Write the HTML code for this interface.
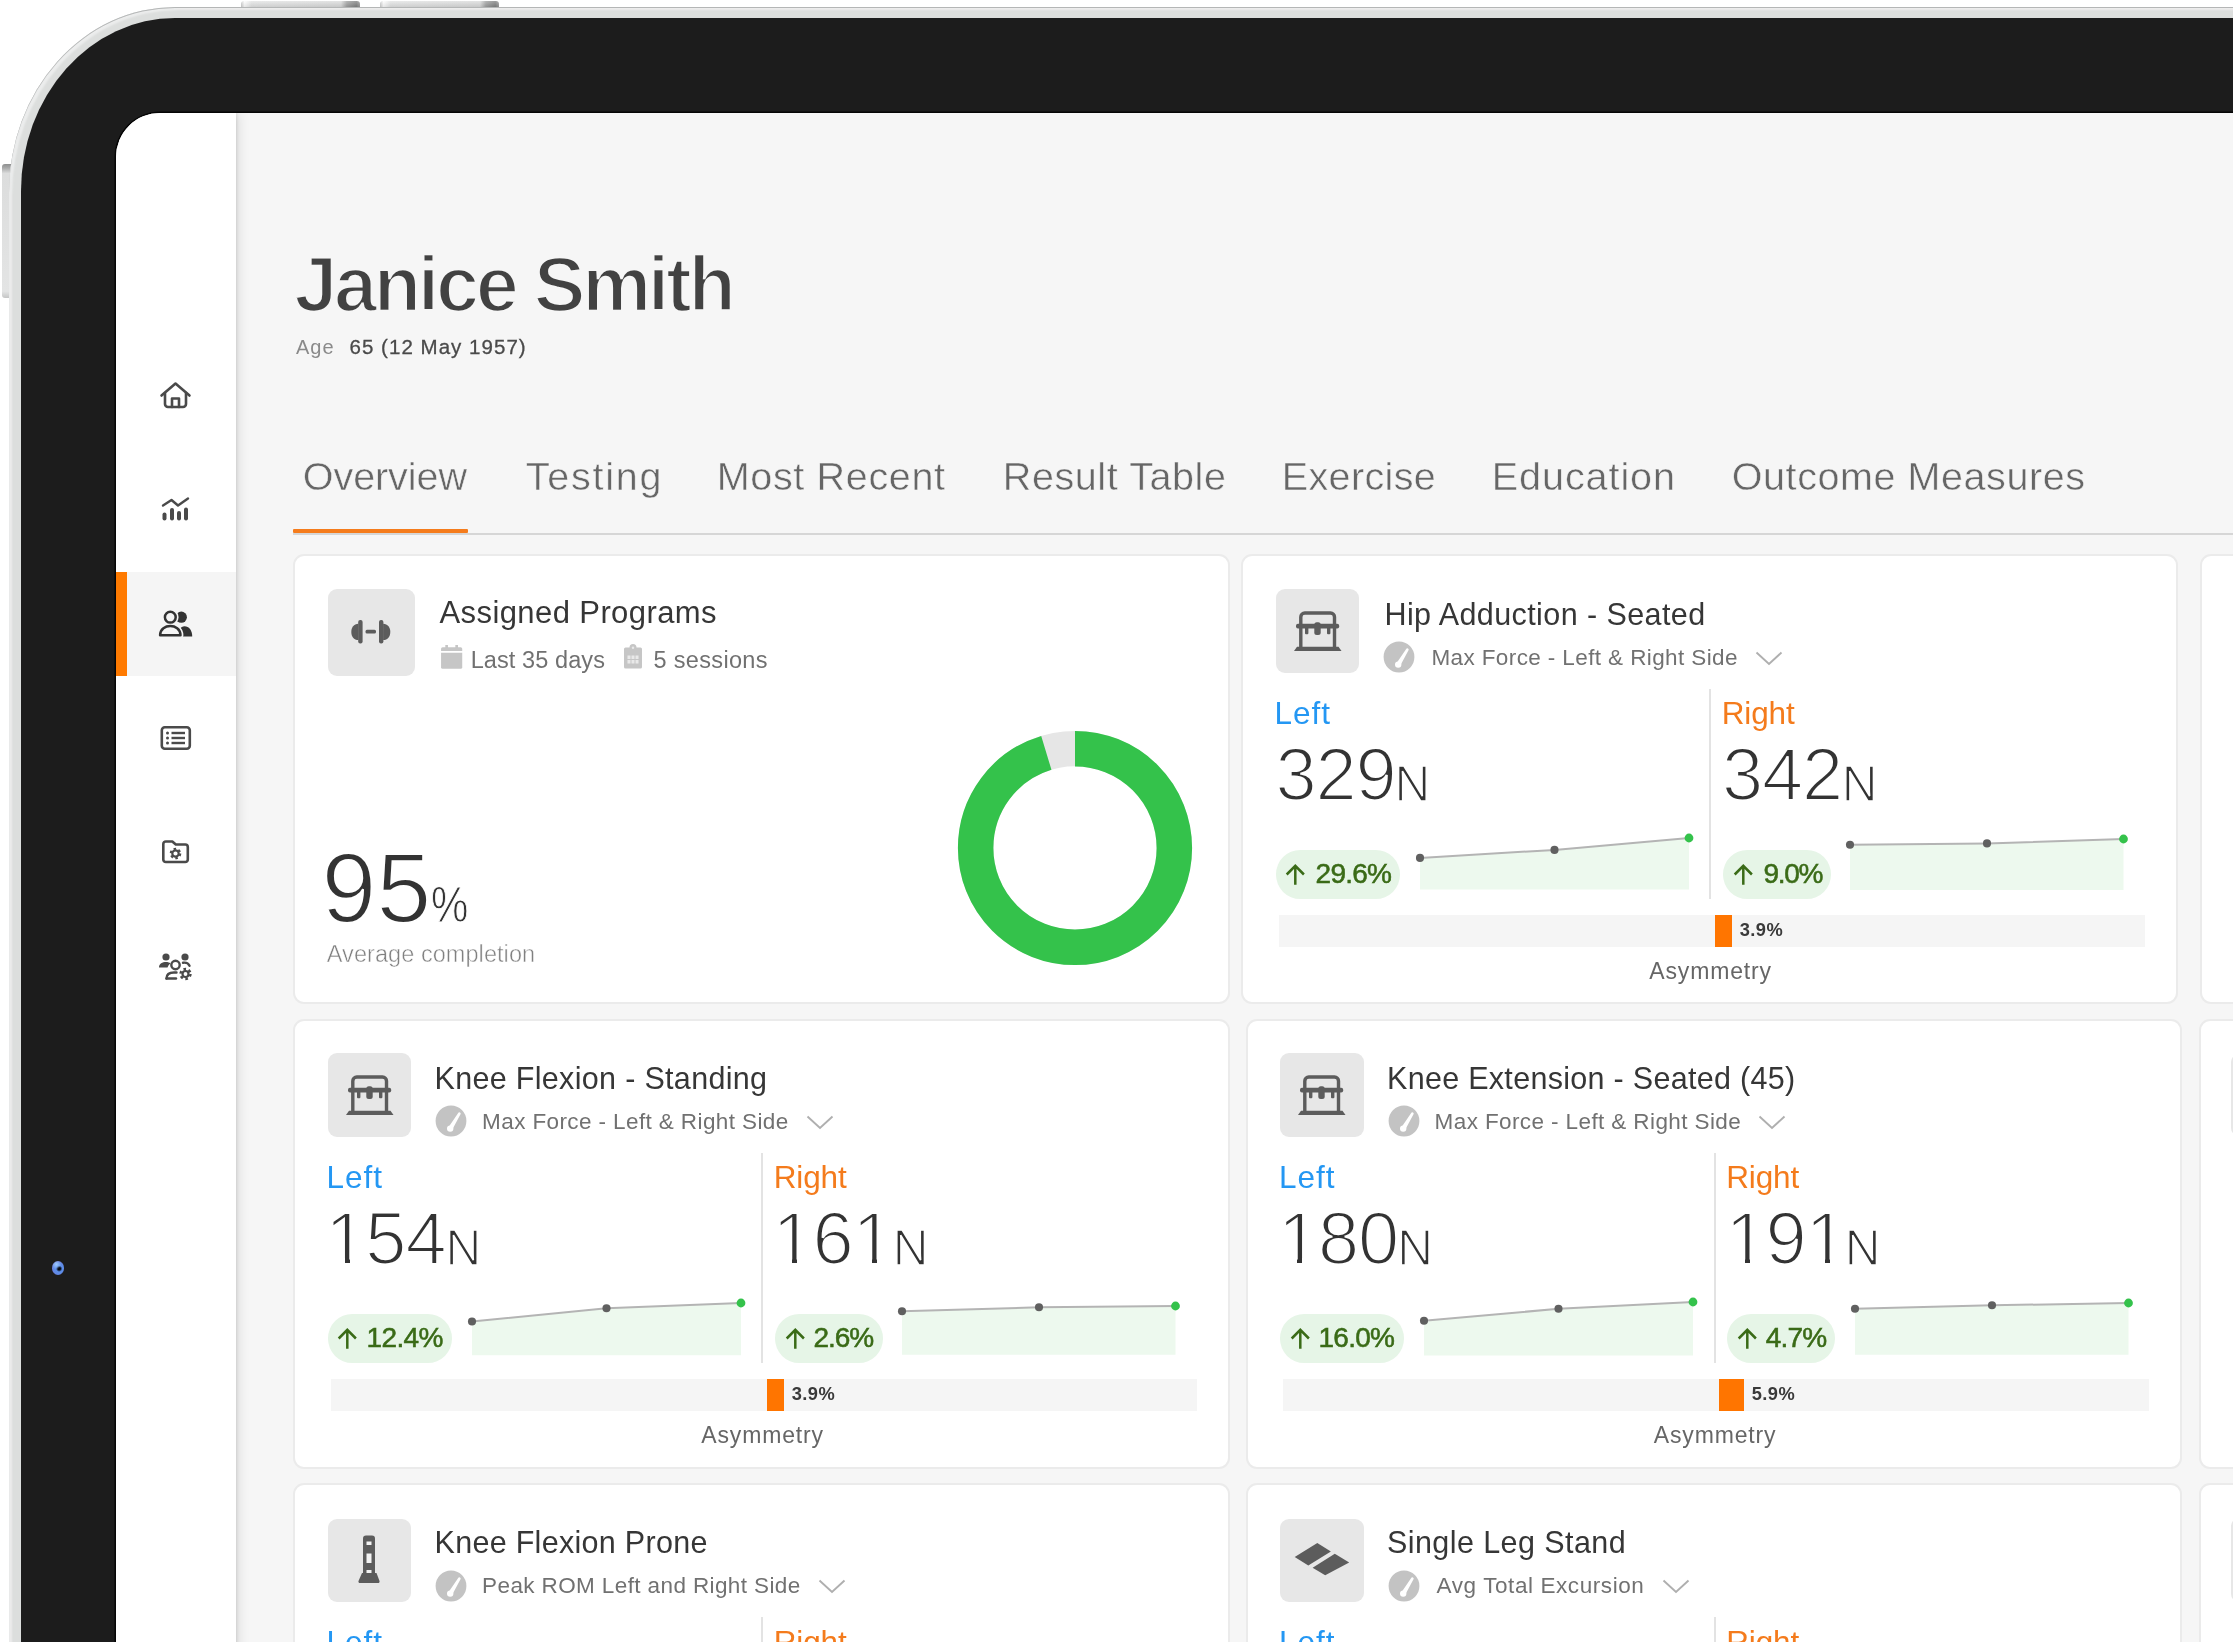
<!DOCTYPE html><html lang="en"><head><meta charset="utf-8"><title>Janice Smith - Overview</title><style>
*{box-sizing:border-box;margin:0;padding:0}
html,body{width:2233px;height:1642px;overflow:hidden;background:#fff}
body{position:relative;font-family:"Liberation Sans",sans-serif;}
#page{position:absolute;left:0;top:0;width:2233px;height:1642px;overflow:hidden;will-change:transform;}
.abs{position:absolute}
.t{position:absolute;white-space:nowrap;line-height:1;}
.btn{position:absolute;background:linear-gradient(rgba(255,255,255,.25),rgba(0,0,0,.10)),linear-gradient(90deg,#c9caca 0,#fdfdfd 3%,#e2e3e3 9%,#d9dada 84%,#9d9e9e 89%,#7c7d7d 97%,#9a9a9a 100%);border-radius:3px 3px 0 0;}
#silver{position:absolute;left:9px;top:6.500px;width:2400px;height:1800px;border-top-left-radius:166px 185px;background:#dcdedd;box-shadow:inset 0 1px 0 0 #b4b6b6, inset 1.500px 0 0 0 #e9eaea, inset 3px 3px 2px 0 #eceded;}
#bezel{position:absolute;left:21.200px;top:18px;width:2400px;height:1800px;border-top-left-radius:154px 173px;background:#1c1c1c;}
#screen{position:absolute;left:116px;top:113px;width:2200px;height:1700px;border-top-left-radius:44px;background:#f6f6f6;overflow:hidden;box-shadow:0 0 0 1.5px #050505;}
#side{position:absolute;left:0;top:0;width:120px;height:1700px;background:#fff;box-shadow:1px 0 3px rgba(0,0,0,.10),3px 0 11px rgba(0,0,0,.10);}
#sel{position:absolute;left:0;top:459px;width:120px;height:104px;background:#f5f5f5;}
#selbar{position:absolute;left:0;top:459px;width:11px;height:104px;background:#ff7a00;}
.ico{position:absolute;overflow:visible}
.card{position:absolute;background:#fff;border:2.500px solid #ebebeb;border-radius:11px;}
.ib{position:absolute;background:#e7e7e7;border-radius:9px;}
.pill{position:absolute;background:#e6f5e7;border-radius:24.300px;height:48.600px;}
.abar{position:absolute;background:#f5f5f5;height:32px;}
.obar{position:absolute;background:#ff7500;height:32px;}
.vdiv{position:absolute;width:2px;background:#e3e3e3;}
.light{-webkit-text-stroke:1.6px #fff;}
.b{font-weight:bold}
</style></head><body><div id="page">
<div class="btn" style="left:241px;top:1px;width:119px;height:7px"></div>
<div class="btn" style="left:380px;top:1px;width:118.500px;height:7px"></div>
<div class="btn" style="left:2px;top:164px;width:9px;height:134px;border-radius:3px 0 0 3px;background:linear-gradient(180deg,#8e8f8f 0,#a9aaaa 3%,#dcdddd 7%,#e3e4e4 95%,#c4c5c5 100%)"></div>
<div id="silver"></div><div id="bezel"></div>
<div class="abs" style="left:51.800px;top:1260.800px;width:12.600px;height:13.800px;border-radius:50%;filter:blur(.7px);background:radial-gradient(circle at 36% 24%,rgba(160,205,255,.95) 0,rgba(160,205,255,0) 38%),radial-gradient(circle at 60% 55%,#060a14 0,#060a14 12%,#5b8de8 30%,#6288e4 55%,#7074cf 76%,rgba(60,60,90,.4) 90%,rgba(28,28,28,0) 100%)"></div>
<div id="screen">
<div id="side"><div id="sel"></div><div id="selbar"></div></div>
</div>
<svg class="ico" style="left:158px;top:380px" width="36" height="32" viewBox="0 0 36 32"><g fill="none" stroke="#4a4a4a" stroke-width="2.6" stroke-linejoin="round" stroke-linecap="round"><path d="M3.5 15.5 L17.5 3.5 L31.5 15.5"/><path d="M7 13 V24 a3 3 0 0 0 3 3 H25 a3 3 0 0 0 3 -3 V13"/><path d="M14 27 V18.5 h7 V27"/></g></svg>
<svg class="ico" style="left:158px;top:494px" width="36" height="32" viewBox="0 0 36 32"><g fill="none" stroke="#4a4a4a" stroke-width="2.4" stroke-linecap="round" stroke-linejoin="round"><path d="M5 11.5 L13.5 6 L20 11.5 L30 4.5"/></g><g fill="#4a4a4a"><rect x="4.5" y="18.5" width="4" height="8" rx="2"/><rect x="12" y="14" width="4" height="12.5" rx="2"/><rect x="19" y="17" width="4" height="9.5" rx="2"/><rect x="26" y="13.5" width="4" height="13" rx="2"/></g></svg>
<svg class="ico" style="left:156px;top:606px" width="40" height="34" viewBox="0 0 40 34"><g fill="#333"><circle cx="25.300" cy="11.200" r="5.600"/><path d="M22.500 30.600 c0 -6.500 2 -10.400 6 -10.400 c4.500 0 7.700 4 7.700 10.400 z"/></g><g fill="#f5f5f5" stroke="#f5f5f5" stroke-width="5.800" stroke-linejoin="round"><circle cx="14.300" cy="11.200" r="5.400"/><path d="M4.100 29.300 c0 -6.500 5.500 -9.300 10.200 -9.300 s10.200 2.800 10.200 9.300 z"/></g><g fill="none" stroke="#333" stroke-width="2.500" stroke-linejoin="round"><circle cx="14.300" cy="11.200" r="5.400"/><path d="M4.100 29.300 c0 -6.500 5.500 -9.300 10.200 -9.300 s10.200 2.800 10.200 9.300 z"/></g></svg>
<svg class="ico" style="left:158px;top:722px" width="36" height="32" viewBox="0 0 36 32"><rect x="3.800" y="5.300" width="28" height="21.500" rx="3" fill="none" stroke="#4a4a4a" stroke-width="2.600"/><g fill="#4a4a4a"><circle cx="9.500" cy="11" r="1.500"/><circle cx="9.500" cy="16" r="1.500"/><circle cx="9.500" cy="21" r="1.500"/><rect x="13.500" y="9.800" width="13.500" height="2.400"/><rect x="13.500" y="14.800" width="13.500" height="2.400"/><rect x="13.500" y="19.800" width="13.500" height="2.400"/></g></svg>
<svg class="ico" style="left:158px;top:836px" width="36" height="32" viewBox="0 0 36 32"><path d="M5.300 8 a2.500 2.500 0 0 1 2.500 -2.500 h6.500 l3.500 3 h9.500 a2.500 2.500 0 0 1 2.500 2.500 v12.500 a2.500 2.500 0 0 1 -2.500 2.500 h-19.500 a2.500 2.500 0 0 1 -2.500 -2.500 z" fill="none" stroke="#4a4a4a" stroke-width="2.600" stroke-linejoin="round"/><g fill="none" stroke="#4a4a4a"><circle cx="17.500" cy="17.500" r="3.200" stroke-width="2.200"/><circle cx="17.500" cy="17.500" r="4.800" stroke-width="2" stroke-dasharray="2.500 2.530"/></g></svg>
<svg class="ico" style="left:156px;top:950px" width="40" height="34" viewBox="0 0 40 34"><g fill="#4a4a4a"><circle cx="10" cy="7" r="3.600"/><circle cx="29" cy="7" r="3.600"/><path d="M3 17.500 c0 -4 3.500 -5.500 7 -5.500 c2 0 3.500 0.500 4.500 1.500 c-1.500 1 -2.500 2.500 -3 4 z"/></g><g fill="none" stroke="#4a4a4a" stroke-width="2.400" stroke-linecap="round"><circle cx="19.500" cy="15" r="4.200"/><path d="M10.500 28.500 c0 -4.500 3.500 -6 7.500 -6 h2.500"/><path d="M10.500 28.500 h9.500"/><path d="M27 12.800 c3 -0.500 5.500 0.700 6.500 3"/></g><g fill="none" stroke="#4a4a4a"><circle cx="29.500" cy="24" r="3" stroke-width="2.200"/><circle cx="29.500" cy="24" r="5" stroke-width="2.400" stroke-dasharray="2.600 2.630"/></g></svg>
<div id="t1" class="t b" style="left:294.2px;top:245.7px;font-size:77.5px;color:#424242;letter-spacing:-3.309px;-webkit-text-stroke:2.6px #f6f6f6;">Janice Smith</div>
<div id="t2" class="t " style="left:296.0px;top:337.1px;font-size:20px;color:#8a8a8a;letter-spacing:1.0px;">Age</div>
<div id="t3" class="t " style="left:349.5px;top:336.6px;font-size:20.5px;color:#4a4a4a;letter-spacing:1.033px;-webkit-text-stroke:.3px #4a4a4a;">65 (12 May 1957)</div>
<div id="t4" class="t tab" style="left:302.8px;top:457.1px;font-size:39.5px;color:#666;letter-spacing:-0.071px;-webkit-text-stroke:0.5px #f6f6f6;">Overview</div>
<div id="t5" class="t tab" style="left:525.8px;top:457.1px;font-size:39.5px;color:#666;letter-spacing:1.75px;-webkit-text-stroke:0.5px #f6f6f6;">Testing</div>
<div id="t6" class="t tab" style="left:716.8px;top:457.1px;font-size:39.5px;color:#666;letter-spacing:0.65px;-webkit-text-stroke:0.5px #f6f6f6;">Most Recent</div>
<div id="t7" class="t tab" style="left:1002.8px;top:457.1px;font-size:39.5px;color:#666;letter-spacing:0.591px;-webkit-text-stroke:0.5px #f6f6f6;">Result Table</div>
<div id="t8" class="t tab" style="left:1281.8px;top:457.1px;font-size:39.5px;color:#666;letter-spacing:0.357px;-webkit-text-stroke:0.5px #f6f6f6;">Exercise</div>
<div id="t9" class="t tab" style="left:1491.8px;top:457.1px;font-size:39.5px;color:#666;letter-spacing:0.938px;-webkit-text-stroke:0.5px #f6f6f6;">Education</div>
<div id="t10" class="t tab" style="left:1731.8px;top:457.1px;font-size:39.5px;color:#666;letter-spacing:0.567px;-webkit-text-stroke:0.5px #f6f6f6;">Outcome Measures</div>
<div class="abs" style="left:293px;top:532.5px;width:2000px;height:2px;background:#d6d6d6"></div>
<div class="abs" style="left:293px;top:528.5px;width:175px;height:4.500px;background:#f57c1c;border-radius:1px"></div>
<div class="card" style="left:293.0px;top:554.0px;width:936.5px;height:449.5px"></div>
<div class="ib" style="left:327.500px;top:588.500px;width:87.500px;height:87.500px"></div>
<svg class="ico" style="left:326.9px;top:588.3px" width="88" height="88" viewBox="0 0 88 88"><g fill="#5c5c5c"><rect x="31.200" y="32" width="4.400" height="23.400" rx="2"/><path d="M31.500 35.700 v16.400 c-4.700 0 -7.200 -3.800 -7.200 -8.200 s2.500 -8.200 7.200 -8.200 z"/><rect x="38.500" y="41.800" width="10.500" height="3.600" rx="1.500"/><rect x="52" y="32" width="4.400" height="23.400" rx="2"/><path d="M56.100 35.700 v16.400 c4.700 0 7.200 -3.800 7.200 -8.200 s-2.500 -8.200 -7.200 -8.200 z"/></g></svg>
<div id="t11" class="t " style="left:439.5px;top:596.8px;font-size:31px;color:#363636;letter-spacing:0.406px;">Assigned Programs</div>
<svg class="ico" style="left:439.500px;top:643.700px" width="23.300" height="25.400" viewBox="0 0 22 24"><g fill="#c6c6c6"><path d="M1 4.500 a1.500 1.500 0 0 1 1.500 -1.500 h2.500 v-2 h2.500 v2 h7 v-2 h2.500 v2 h2.500 a1.500 1.500 0 0 1 1.500 1.500 v2 h-20 z"/><path d="M1 8.300 h20 v13.700 a1.500 1.500 0 0 1 -1.500 1.500 h-17 a1.500 1.500 0 0 1 -1.500 -1.500 z"/></g></svg>
<div id="t12" class="t " style="left:470.7px;top:649.3px;font-size:23.5px;color:#717171;letter-spacing:0.091px;">Last 35 days</div>
<svg class="ico" style="left:623px;top:644px" width="20" height="26" viewBox="0 0 20 26"><g fill="#c6c6c6"><path d="M2.500 3.500 h4 a3.500 3.500 0 0 1 7 0 h4 a1.500 1.500 0 0 1 1.500 1.500 v18 a1.500 1.500 0 0 1 -1.500 1.500 h-15 a1.500 1.500 0 0 1 -1.500 -1.500 v-18 a1.500 1.500 0 0 1 1.500 -1.500 z"/></g><g fill="#e9e9e9"><rect x="4.500" y="11.500" width="3" height="3.500"/><rect x="8.500" y="11.500" width="3" height="3.500"/><rect x="12.500" y="11.500" width="3" height="3.500"/><rect x="4.500" y="16" width="3" height="3.500"/><rect x="8.500" y="16" width="3" height="3.500"/><rect x="12.500" y="16" width="3" height="3.500"/><circle cx="10" cy="3.800" r="1.200"/></g></svg>
<div id="t13" class="t " style="left:653.5px;top:649.1px;font-size:23.5px;color:#717171;letter-spacing:0.333px;">5 sessions</div>
<div id="t14" class="t " style="left:321.5px;top:839.3px;font-size:98.5px;color:#333333;letter-spacing:0.3px;-webkit-text-stroke:2px #fff;">95</div>
<div id="t15" class="t " style="left:430.6px;top:880.4px;font-size:50px;color:#333333;-webkit-text-stroke:0.9px #fff;transform:scaleX(.84);transform-origin:0 0;">%</div>
<div id="t16" class="t " style="left:326.8px;top:942.6px;font-size:23.5px;color:#808080;letter-spacing:0.059px;-webkit-text-stroke:0.5px #fff;">Average completion</div>
<svg class="ico" style="left:955.300px;top:727.700px" width="240" height="240" viewBox="-120 -120 240 240"><circle r="99.350" fill="none" stroke="#e6e6e6" stroke-width="35.300"/><circle r="99.350" fill="none" stroke="#34c24b" stroke-width="35.500" stroke-dasharray="594.08 1000" transform="rotate(-90)"/></svg>
<div class="card" style="left:1241.0px;top:554.0px;width:936.5px;height:449.5px"></div>
<div class="ib" style="left:1275.5px;top:589.2px;width:83.5px;height:83.5px"></div>
<svg class="ico" style="left:1275.5px;top:589.2px" width="84" height="84" viewBox="0 0 84 84"><g fill="none" stroke="#5c5c5c" stroke-width="3.4"><path d="M24.800 58 V28 a4 4 0 0 1 4 -4 H54.500 a4 4 0 0 1 4 4 V58"/></g><g fill="#5c5c5c"><rect x="20" y="34.800" width="43.200" height="4.800" rx="2"/><rect x="38.300" y="33.300" width="6.400" height="12.600" rx="2.500"/><rect x="29" y="38" width="3.400" height="7.200" rx="1"/><rect x="51" y="38" width="3.400" height="7.200" rx="1"/><path d="M21 57.800 H62.500 L65.500 62 H18 z"/></g></svg>
<div id="t17" class="t " style="left:1384.5px;top:598.6px;font-size:30.5px;color:#363636;letter-spacing:0.41px;">Hip Adduction - Seated</div>
<svg class="ico" style="left:1383.3px;top:641.0px" width="32" height="32" viewBox="0 0 32 32"><circle cx="16" cy="16" r="15.400" fill="#c3c3c3"/><path d="M13.300 22.600 L23.200 8 A1.300 1.300 0 0 1 25.500 9.300 L17.200 24.800 z" fill="#fff"/><circle cx="15.200" cy="23.600" r="3.200" fill="#fff"/></svg>
<div id="t18" class="t " style="left:1431.4px;top:646.6px;font-size:22.5px;color:#717171;letter-spacing:0.393px;">Max Force - Left &amp; Right Side</div>
<svg class="ico" style="left:1754.9px;top:651.1px" width="28" height="16" viewBox="0 0 28 16"><path d="M1.500 1.500 L14 13 L26.500 1.500" fill="none" stroke="#afafaf" stroke-width="1.900"/></svg>
<div class="vdiv" style="left:1709px;top:689px;height:210px"></div>
<div id="t19" class="t " style="left:1274.5px;top:697.7px;font-size:31.5px;color:#2497f3;letter-spacing:1.0px;">Left</div>
<div id="t20" class="t " style="left:1275.5px;top:737.9px;font-size:74px;color:#333333;letter-spacing:-1.1px;-webkit-text-stroke:2.2px #fff;">329</div>
<div id="t21" class="t " style="left:1394.5px;top:758.6px;font-size:49.5px;color:#333333;-webkit-text-stroke:1.5px #fff;">N</div>
<div class="pill" style="left:1275.5px;top:850.3px;width:124px"></div>
<svg class="ico" style="left:1285.3px;top:863.3px" width="21" height="24" viewBox="0 0 21 24"><path d="M10.300 21.800 V3 M1.700 11.500 L10.300 2.800 L18.900 11.500" fill="none" stroke="#3a6b17" stroke-width="2.500"/></svg>
<div id="t22" class="t " style="left:1315.6px;top:860.3px;font-size:28px;color:#3a6b17;letter-spacing:-0.75px;-webkit-text-stroke:.55px #3a6b17;">29.6%</div>
<svg class="ico" style="left:1411.5px;top:830.4px" width="285.0" height="61.6"><polygon points="8.0,59.6 8.0,27.9 142.5,19.9 277.0,8.0 277.0,59.6" fill="#edf9ee"/><polyline points="8.0,27.9 142.5,19.9 277.0,8.0" fill="none" stroke="#b4b4b4" stroke-width="2"/><circle cx="8.0" cy="27.9" r="4.050" fill="#606060"/><circle cx="142.5" cy="19.9" r="4.050" fill="#606060"/><circle cx="277.0" cy="8.0" r="4.400" fill="#34c24b"/></svg>
<div id="t23" class="t " style="left:1721.7px;top:697.7px;font-size:31.5px;color:#f47b1c;letter-spacing:-0.125px;">Right</div>
<div id="t24" class="t " style="left:1721.9px;top:737.9px;font-size:74px;color:#333333;letter-spacing:-1.1px;-webkit-text-stroke:2.2px #fff;">342</div>
<div id="t25" class="t " style="left:1841.8px;top:758.6px;font-size:49.5px;color:#333333;-webkit-text-stroke:1.5px #fff;">N</div>
<div class="pill" style="left:1722.9px;top:850.3px;width:108px"></div>
<svg class="ico" style="left:1732.7px;top:863.3px" width="21" height="24" viewBox="0 0 21 24"><path d="M10.300 21.800 V3 M1.700 11.500 L10.300 2.800 L18.900 11.500" fill="none" stroke="#3a6b17" stroke-width="2.500"/></svg>
<div id="t26" class="t " style="left:1763.5px;top:860.3px;font-size:28px;color:#3a6b17;letter-spacing:-1.333px;-webkit-text-stroke:.55px #3a6b17;">9.0%</div>
<svg class="ico" style="left:1842.0px;top:831.0px" width="289.5" height="61.0"><polygon points="8.0,59.0 8.0,13.8 145.0,12.4 281.5,8.0 281.5,59.0" fill="#edf9ee"/><polyline points="8.0,13.8 145.0,12.4 281.5,8.0" fill="none" stroke="#b4b4b4" stroke-width="2"/><circle cx="8.0" cy="13.8" r="4.050" fill="#606060"/><circle cx="145.0" cy="12.4" r="4.050" fill="#606060"/><circle cx="281.5" cy="8.0" r="4.400" fill="#34c24b"/></svg>
<div class="abar" style="left:1278.5px;top:914.5px;width:866px"></div>
<div class="obar" style="left:1714.5px;top:914.5px;width:17px"></div>
<div id="t27" class="t b" style="left:1739.7px;top:921.2px;font-size:18.3px;color:#3a3a3a;letter-spacing:0.433px;">3.9%</div>
<div id="t28" class="t " style="left:1649.3px;top:959.5px;font-size:23px;color:#666;letter-spacing:0.85px;">Asymmetry</div>
<div class="card" style="left:293.0px;top:1019.0px;width:936.5px;height:449.5px"></div>
<div class="ib" style="left:327.5px;top:1053.2px;width:83.5px;height:83.5px"></div>
<svg class="ico" style="left:327.5px;top:1053.2px" width="84" height="84" viewBox="0 0 84 84"><g fill="none" stroke="#5c5c5c" stroke-width="3.4"><path d="M24.800 58 V28 a4 4 0 0 1 4 -4 H54.500 a4 4 0 0 1 4 4 V58"/></g><g fill="#5c5c5c"><rect x="20" y="34.800" width="43.200" height="4.800" rx="2"/><rect x="38.300" y="33.300" width="6.400" height="12.600" rx="2.500"/><rect x="29" y="38" width="3.400" height="7.200" rx="1"/><rect x="51" y="38" width="3.400" height="7.200" rx="1"/><path d="M21 57.800 H62.500 L65.500 62 H18 z"/></g></svg>
<div id="t29" class="t " style="left:434.5px;top:1062.6px;font-size:30.5px;color:#363636;letter-spacing:0.318px;">Knee Flexion - Standing</div>
<svg class="ico" style="left:435.3px;top:1105.0px" width="32" height="32" viewBox="0 0 32 32"><circle cx="16" cy="16" r="15.400" fill="#c3c3c3"/><path d="M13.300 22.600 L23.200 8 A1.300 1.300 0 0 1 25.500 9.300 L17.200 24.800 z" fill="#fff"/><circle cx="15.200" cy="23.600" r="3.200" fill="#fff"/></svg>
<div id="t30" class="t " style="left:482.1px;top:1110.6px;font-size:22.5px;color:#717171;letter-spacing:0.393px;">Max Force - Left &amp; Right Side</div>
<svg class="ico" style="left:805.6px;top:1115.1px" width="28" height="16" viewBox="0 0 28 16"><path d="M1.500 1.500 L14 13 L26.500 1.500" fill="none" stroke="#afafaf" stroke-width="1.900"/></svg>
<div class="vdiv" style="left:761px;top:1153px;height:210px"></div>
<div id="t31" class="t " style="left:326.5px;top:1161.7px;font-size:31.5px;color:#2497f3;letter-spacing:1.0px;">Left</div>
<div id="t32" class="t " style="left:325.3px;top:1201.9px;font-size:74px;color:#333333;letter-spacing:-1.1px;-webkit-text-stroke:2.2px #fff;">154</div>
<div class="abs" style="background:#fff;left:329.44px;top:1258.37px;width:15.42px;height:7.53px"></div>
<div class="abs" style="background:#fff;left:349.50px;top:1258.37px;width:14.85px;height:7.53px"></div>
<div id="t33" class="t " style="left:445.4px;top:1222.6px;font-size:49.5px;color:#333333;-webkit-text-stroke:1.5px #fff;">N</div>
<div class="pill" style="left:327.5px;top:1314.3px;width:124px"></div>
<svg class="ico" style="left:337.3px;top:1327.3px" width="21" height="24" viewBox="0 0 21 24"><path d="M10.300 21.800 V3 M1.700 11.500 L10.300 2.800 L18.900 11.500" fill="none" stroke="#3a6b17" stroke-width="2.500"/></svg>
<div id="t34" class="t " style="left:366.5px;top:1324.3px;font-size:28px;color:#3a6b17;letter-spacing:-0.625px;-webkit-text-stroke:.55px #3a6b17;">12.4%</div>
<svg class="ico" style="left:463.5px;top:1294.8px" width="285.0" height="62.2"><polygon points="8.0,60.2 8.0,26.5 142.5,13.2 277.0,8.0 277.0,60.2" fill="#edf9ee"/><polyline points="8.0,26.5 142.5,13.2 277.0,8.0" fill="none" stroke="#b4b4b4" stroke-width="2"/><circle cx="8.0" cy="26.5" r="4.050" fill="#606060"/><circle cx="142.5" cy="13.2" r="4.050" fill="#606060"/><circle cx="277.0" cy="8.0" r="4.400" fill="#34c24b"/></svg>
<div id="t35" class="t " style="left:773.7px;top:1161.7px;font-size:31.5px;color:#f47b1c;letter-spacing:-0.125px;">Right</div>
<div id="t36" class="t " style="left:772.5px;top:1201.9px;font-size:74px;color:#333333;letter-spacing:-1.1px;-webkit-text-stroke:2.2px #fff;">161</div>
<div class="abs" style="background:#fff;left:776.64px;top:1258.37px;width:15.42px;height:7.53px"></div>
<div class="abs" style="background:#fff;left:796.70px;top:1258.37px;width:14.85px;height:7.53px"></div>
<div class="abs" style="background:#fff;left:856.75px;top:1258.37px;width:15.42px;height:7.53px"></div>
<div class="abs" style="background:#fff;left:876.81px;top:1258.37px;width:14.85px;height:7.53px"></div>
<div id="t37" class="t " style="left:892.8px;top:1222.6px;font-size:49.5px;color:#333333;-webkit-text-stroke:1.5px #fff;">N</div>
<div class="pill" style="left:774.9px;top:1314.3px;width:108px"></div>
<svg class="ico" style="left:784.7px;top:1327.3px" width="21" height="24" viewBox="0 0 21 24"><path d="M10.300 21.800 V3 M1.700 11.500 L10.300 2.800 L18.900 11.500" fill="none" stroke="#3a6b17" stroke-width="2.500"/></svg>
<div id="t38" class="t " style="left:813.4px;top:1324.3px;font-size:28px;color:#3a6b17;letter-spacing:-1.0px;-webkit-text-stroke:.55px #3a6b17;">2.6%</div>
<svg class="ico" style="left:894.0px;top:1298.2px" width="289.5" height="58.8"><polygon points="8.0,56.8 8.0,13.2 145.0,9.3 281.5,8.0 281.5,56.8" fill="#edf9ee"/><polyline points="8.0,13.2 145.0,9.3 281.5,8.0" fill="none" stroke="#b4b4b4" stroke-width="2"/><circle cx="8.0" cy="13.2" r="4.050" fill="#606060"/><circle cx="145.0" cy="9.3" r="4.050" fill="#606060"/><circle cx="281.5" cy="8.0" r="4.400" fill="#34c24b"/></svg>
<div class="abar" style="left:330.5px;top:1378.5px;width:866px"></div>
<div class="obar" style="left:766.5px;top:1378.5px;width:17px"></div>
<div id="t39" class="t b" style="left:791.7px;top:1385.2px;font-size:18.3px;color:#3a3a3a;letter-spacing:0.433px;">3.9%</div>
<div id="t40" class="t " style="left:701.3px;top:1423.5px;font-size:23px;color:#666;letter-spacing:0.85px;">Asymmetry</div>
<div class="card" style="left:1245.5px;top:1019.0px;width:936.5px;height:449.5px"></div>
<div class="ib" style="left:1280.0px;top:1053.2px;width:83.5px;height:83.5px"></div>
<svg class="ico" style="left:1280.0px;top:1053.2px" width="84" height="84" viewBox="0 0 84 84"><g fill="none" stroke="#5c5c5c" stroke-width="3.4"><path d="M24.800 58 V28 a4 4 0 0 1 4 -4 H54.500 a4 4 0 0 1 4 4 V58"/></g><g fill="#5c5c5c"><rect x="20" y="34.800" width="43.200" height="4.800" rx="2"/><rect x="38.300" y="33.300" width="6.400" height="12.600" rx="2.500"/><rect x="29" y="38" width="3.400" height="7.200" rx="1"/><rect x="51" y="38" width="3.400" height="7.200" rx="1"/><path d="M21 57.800 H62.500 L65.500 62 H18 z"/></g></svg>
<div id="t41" class="t " style="left:1387.0px;top:1062.6px;font-size:30.5px;color:#363636;letter-spacing:0.296px;">Knee Extension - Seated (45)</div>
<svg class="ico" style="left:1387.8px;top:1105.0px" width="32" height="32" viewBox="0 0 32 32"><circle cx="16" cy="16" r="15.400" fill="#c3c3c3"/><path d="M13.300 22.600 L23.200 8 A1.300 1.300 0 0 1 25.500 9.300 L17.200 24.800 z" fill="#fff"/><circle cx="15.200" cy="23.600" r="3.200" fill="#fff"/></svg>
<div id="t42" class="t " style="left:1434.6px;top:1110.6px;font-size:22.5px;color:#717171;letter-spacing:0.393px;">Max Force - Left &amp; Right Side</div>
<svg class="ico" style="left:1758.1px;top:1115.1px" width="28" height="16" viewBox="0 0 28 16"><path d="M1.500 1.500 L14 13 L26.500 1.500" fill="none" stroke="#afafaf" stroke-width="1.900"/></svg>
<div class="vdiv" style="left:1713.5px;top:1153px;height:210px"></div>
<div id="t43" class="t " style="left:1279.0px;top:1161.7px;font-size:31.5px;color:#2497f3;letter-spacing:1.0px;">Left</div>
<div id="t44" class="t " style="left:1277.9px;top:1201.9px;font-size:74px;color:#333333;letter-spacing:-1.1px;-webkit-text-stroke:2.2px #fff;">180</div>
<div class="abs" style="background:#fff;left:1282.04px;top:1258.37px;width:15.42px;height:7.53px"></div>
<div class="abs" style="background:#fff;left:1302.10px;top:1258.37px;width:14.84px;height:7.53px"></div>
<div id="t45" class="t " style="left:1397.2px;top:1222.6px;font-size:49.5px;color:#333333;-webkit-text-stroke:1.5px #fff;">N</div>
<div class="pill" style="left:1280.0px;top:1314.3px;width:124px"></div>
<svg class="ico" style="left:1289.8px;top:1327.3px" width="21" height="24" viewBox="0 0 21 24"><path d="M10.300 21.800 V3 M1.700 11.500 L10.300 2.800 L18.900 11.500" fill="none" stroke="#3a6b17" stroke-width="2.500"/></svg>
<div id="t46" class="t " style="left:1318.5px;top:1324.3px;font-size:28px;color:#3a6b17;letter-spacing:-0.75px;-webkit-text-stroke:.55px #3a6b17;">16.0%</div>
<svg class="ico" style="left:1416.0px;top:1293.5px" width="285.0" height="63.5"><polygon points="8.0,61.5 8.0,26.8 142.5,14.8 277.0,8.0 277.0,61.5" fill="#edf9ee"/><polyline points="8.0,26.8 142.5,14.8 277.0,8.0" fill="none" stroke="#b4b4b4" stroke-width="2"/><circle cx="8.0" cy="26.8" r="4.050" fill="#606060"/><circle cx="142.5" cy="14.8" r="4.050" fill="#606060"/><circle cx="277.0" cy="8.0" r="4.400" fill="#34c24b"/></svg>
<div id="t47" class="t " style="left:1726.2px;top:1161.7px;font-size:31.5px;color:#f47b1c;letter-spacing:-0.125px;">Right</div>
<div id="t48" class="t " style="left:1725.4px;top:1201.9px;font-size:74px;color:#333333;letter-spacing:-1.1px;-webkit-text-stroke:2.2px #fff;">191</div>
<div class="abs" style="background:#fff;left:1729.54px;top:1258.37px;width:15.42px;height:7.53px"></div>
<div class="abs" style="background:#fff;left:1749.60px;top:1258.37px;width:14.84px;height:7.53px"></div>
<div class="abs" style="background:#fff;left:1809.65px;top:1258.37px;width:15.42px;height:7.53px"></div>
<div class="abs" style="background:#fff;left:1829.71px;top:1258.37px;width:14.84px;height:7.53px"></div>
<div id="t49" class="t " style="left:1844.8px;top:1222.6px;font-size:49.5px;color:#333333;-webkit-text-stroke:1.5px #fff;">N</div>
<div class="pill" style="left:1727.4px;top:1314.3px;width:108px"></div>
<svg class="ico" style="left:1737.2px;top:1327.3px" width="21" height="24" viewBox="0 0 21 24"><path d="M10.300 21.800 V3 M1.700 11.500 L10.300 2.800 L18.900 11.500" fill="none" stroke="#3a6b17" stroke-width="2.500"/></svg>
<div id="t50" class="t " style="left:1765.8px;top:1324.3px;font-size:28px;color:#3a6b17;letter-spacing:-0.833px;-webkit-text-stroke:.55px #3a6b17;">4.7%</div>
<svg class="ico" style="left:1846.5px;top:1295.3px" width="289.5" height="61.7"><polygon points="8.0,59.7 8.0,13.8 145.0,10.3 281.5,8.0 281.5,59.7" fill="#edf9ee"/><polyline points="8.0,13.8 145.0,10.3 281.5,8.0" fill="none" stroke="#b4b4b4" stroke-width="2"/><circle cx="8.0" cy="13.8" r="4.050" fill="#606060"/><circle cx="145.0" cy="10.3" r="4.050" fill="#606060"/><circle cx="281.5" cy="8.0" r="4.400" fill="#34c24b"/></svg>
<div class="abar" style="left:1283.0px;top:1378.5px;width:866px"></div>
<div class="obar" style="left:1719.0px;top:1378.5px;width:24.5px"></div>
<div id="t51" class="t b" style="left:1751.7px;top:1385.2px;font-size:18.3px;color:#3a3a3a;letter-spacing:0.433px;">5.9%</div>
<div id="t52" class="t " style="left:1653.8px;top:1423.5px;font-size:23px;color:#666;letter-spacing:0.85px;">Asymmetry</div>
<div class="card" style="left:293.0px;top:1483.0px;width:936.5px;height:449.5px"></div>
<div class="ib" style="left:327.5px;top:1518.5px;width:83.5px;height:83.5px"></div>
<svg class="ico" style="left:326.5px;top:1518.0px" width="84" height="84" viewBox="0 0 84 84"><g fill="#5c5c5c"><path d="M36 20.500 a3 3 0 0 1 3 -3 h6 a3 3 0 0 1 3 3 V55.500 H36 z"/><path d="M35 55 h14.500 l3 8 a1.500 1.500 0 0 1 -1.500 2 H33 a1.500 1.500 0 0 1 -1.500 -2 z"/></g><g fill="#f3f3f3"><rect x="39.500" y="23.500" width="5" height="3.500"/><rect x="39.500" y="35.500" width="5" height="9.500"/><rect x="39.500" y="52" width="5" height="3"/></g></svg>
<div id="t53" class="t " style="left:434.5px;top:1526.6px;font-size:30.5px;color:#363636;letter-spacing:0.294px;">Knee Flexion Prone</div>
<svg class="ico" style="left:435.3px;top:1570.0px" width="32" height="32" viewBox="0 0 32 32"><circle cx="16" cy="16" r="15.400" fill="#c3c3c3"/><path d="M13.300 22.600 L23.200 8 A1.300 1.300 0 0 1 25.500 9.300 L17.200 24.800 z" fill="#fff"/><circle cx="15.200" cy="23.600" r="3.200" fill="#fff"/></svg>
<div id="t54" class="t " style="left:482.1px;top:1574.6px;font-size:22.5px;color:#717171;letter-spacing:0.389px;">Peak ROM Left and Right Side</div>
<svg class="ico" style="left:818.1px;top:1579.1px" width="28" height="16" viewBox="0 0 28 16"><path d="M1.500 1.500 L14 13 L26.500 1.500" fill="none" stroke="#afafaf" stroke-width="1.900"/></svg>
<div class="vdiv" style="left:761px;top:1617px;height:210px"></div>
<div id="t55" class="t " style="left:326.5px;top:1626.8px;font-size:31.5px;color:#2497f3;letter-spacing:1.0px;">Left</div>
<div id="t56" class="t " style="left:773.7px;top:1626.8px;font-size:31.5px;color:#f47b1c;letter-spacing:-0.125px;">Right</div>
<div class="card" style="left:1245.5px;top:1483.0px;width:936.5px;height:449.5px"></div>
<div class="ib" style="left:1280.0px;top:1518.5px;width:83.5px;height:83.5px"></div>
<svg class="ico" style="left:1280.0px;top:1518.5px" width="84" height="84" viewBox="0 0 84 84"><g fill="#5c5c5c"><path d="M14.700 38 L37.300 24 L50.900 32.600 L28.300 46.600 z"/><path d="M32.600 48.700 L54.800 34.800 L69.200 43.400 L45.200 56.200 z"/></g></svg>
<div id="t57" class="t " style="left:1387.0px;top:1526.6px;font-size:30.5px;color:#363636;letter-spacing:0.42px;">Single Leg Stand</div>
<svg class="ico" style="left:1387.8px;top:1570.0px" width="32" height="32" viewBox="0 0 32 32"><circle cx="16" cy="16" r="15.400" fill="#c3c3c3"/><path d="M13.300 22.600 L23.200 8 A1.300 1.300 0 0 1 25.500 9.300 L17.200 24.800 z" fill="#fff"/><circle cx="15.200" cy="23.600" r="3.200" fill="#fff"/></svg>
<div id="t58" class="t " style="left:1436.6px;top:1574.6px;font-size:22.5px;color:#717171;letter-spacing:0.583px;">Avg Total Excursion</div>
<svg class="ico" style="left:1661.6px;top:1579.1px" width="28" height="16" viewBox="0 0 28 16"><path d="M1.500 1.500 L14 13 L26.500 1.500" fill="none" stroke="#afafaf" stroke-width="1.900"/></svg>
<div class="vdiv" style="left:1713.5px;top:1617px;height:210px"></div>
<div id="t59" class="t " style="left:1279.0px;top:1626.8px;font-size:31.5px;color:#2497f3;letter-spacing:1.0px;">Left</div>
<div id="t60" class="t " style="left:1726.2px;top:1626.8px;font-size:31.5px;color:#f47b1c;letter-spacing:-0.125px;">Right</div>
<div class="card" style="left:2200.0px;top:554.0px;width:936.5px;height:449.5px"></div>
<div class="card" style="left:2199.0px;top:1019.0px;width:936.5px;height:449.5px"></div>
<div class="card" style="left:2199.0px;top:1483.0px;width:936.5px;height:449.5px"></div>
<div class="abs" style="left:2230.500px;top:1054px;width:30px;height:82px;background:#e7e7e7;border-radius:8px"></div>
<div class="abs" style="left:2230.500px;top:1518px;width:30px;height:84px;background:#e7e7e7;border-radius:8px"></div>
</div></body></html>
